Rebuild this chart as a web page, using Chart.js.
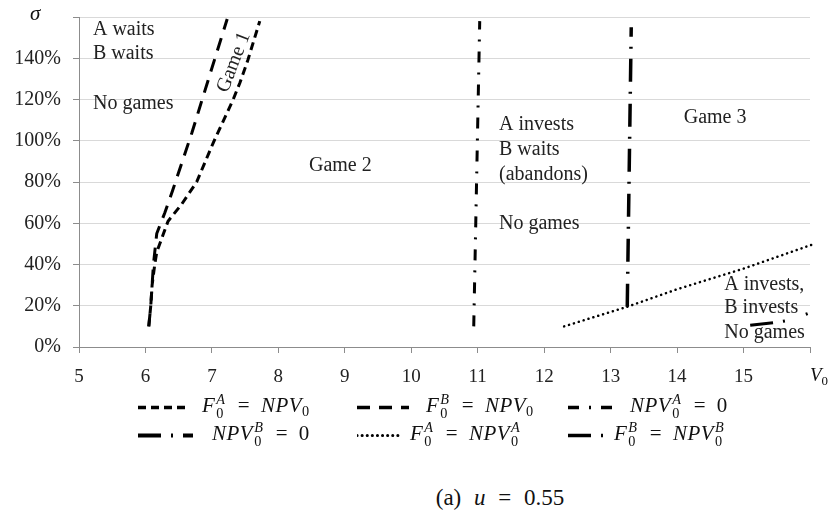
<!DOCTYPE html>
<html>
<head>
<meta charset="utf-8">
<script src="https://cdn.jsdelivr.net/npm/chart.js@4.4.1/dist/chart.umd.min.js"></script>
<style>
  body { margin: 0; background: #fff; }
  #wrap { position: relative; width: 831px; height: 515px; font-family: "Liberation Serif", serif; color: #111; }
  #box { position: absolute; left: 0; top: 0; width: 831px; height: 395px; }
  .lg { position: absolute; display: flex; align-items: center; font-size: 21px; line-height: 1; white-space: nowrap; transform: translateY(-50%); word-spacing: 6px; }
  .lg i { letter-spacing: 0.5px; }
  .lg svg { display: block; }
  .ss { display: inline-flex; flex-direction: column; vertical-align: 0.5em; font-size: 0.68em; line-height: 0.95; margin: 0 1px; }
  .ss > * { display: block; }
  sub { font-size: 0.68em; vertical-align: -0.3em; line-height: 0; }
  #sigma { position: absolute; left: 30px; top: 1px; font-size: 21px; font-style: italic; }
  #v0 { position: absolute; left: 810px; top: 364px; font-size: 19px; }
  #caption { position: absolute; left: 0; width: 1000px; top: 485px; text-align: center; font-size: 23px; word-spacing: 7px; }
</style>
</head>
<body>
<div id="wrap">
  <div id="box"><canvas id="chart"></canvas></div>
  <div id="sigma">σ</div>
  <div id="v0"><i>V</i><sub>0</sub></div>
  <div id="legend"></div>
  <div id="caption">(a) <i>u</i> = 0.55</div>
</div>
<script>
// sigma (%) and V0 for each boundary curve
const sigmaFA = [10, 20, 30, 40, 46, 61, 69, 80, 99, 120, 128, 139, 158];
const v0FA = [6.05, 6.08, 6.10, 6.14, 6.17, 6.34, 6.54, 6.77, 7.02, 7.32, 7.42, 7.54, 7.72];

const sigmaFB = [10, 20, 30, 40, 46, 55, 65, 76, 104, 129, 159];
const v0FB = [6.05, 6.08, 6.10, 6.12, 6.14, 6.17, 6.29, 6.41, 6.70, 6.94, 7.23];

const sigmaNpvA = [10, 158];
const v0NpvA = [10.94, 11.03];

const sigmaNpvB = [19.5, 155];
const v0NpvB = [13.25, 13.31];

const sigmaFNpvA = [10, 19.5, 28, 38, 49.5];
const v0FNpvA = [12.3, 13.25, 14, 15, 16.02];

const sigmaFNpvB = [10.5, 12, 13, 17];
const v0FNpvB = [15.1, 15.5, 15.7, 16.03];

const xTicks = [5, 6, 7, 8, 9, 10, 11, 12, 13, 14, 15, 16];
const yTicks = [0, 20, 40, 60, 80, 100, 120, 140, 160];

const seriesNames = [
  '<i>F</i><span class="ss"><i>A</i><span>0</span></span> = <i>NPV</i><sub>0</sub>',
  '<i>F</i><span class="ss"><i>B</i><span>0</span></span> = <i>NPV</i><sub>0</sub>',
  '<i>NPV</i><span class="ss"><i>A</i><span>0</span></span> = 0',
  '<i>NPV</i><span class="ss"><i>B</i><span>0</span></span> = 0',
  '<i>F</i><span class="ss"><i>A</i><span>0</span></span> = <i>NPV</i><span class="ss"><i>A</i><span>0</span></span>',
  '<i>F</i><span class="ss"><i>B</i><span>0</span></span> = <i>NPV</i><span class="ss"><i>B</i><span>0</span></span>',
];
const seriesX = [v0FA, v0FB, v0NpvA, v0NpvB, v0FNpvA, v0FNpvB];
const seriesY = [sigmaFA, sigmaFB, sigmaNpvA, sigmaNpvB, sigmaFNpvA, sigmaFNpvB];

// region labels, placed in data coordinates
const notes = [
  { text: "A waits", x: 5.21, y: 154 },
  { text: "B waits", x: 5.21, y: 142.4 },
  { text: "No games", x: 5.21, y: 118 },
  { text: "Game 2", x: 8.46, y: 88 },
  { text: "A invests", x: 11.32, y: 108 },
  { text: "B waits", x: 11.32, y: 95.4 },
  { text: "(abandons)", x: 11.32, y: 83.3 },
  { text: "No games", x: 11.32, y: 60 },
  { text: "Game 3", x: 14.1, y: 111 },
  { text: "A invests,", x: 14.71, y: 30 },
  { text: "B invests", x: 14.71, y: 18.9 },
  { text: "No games", x: 14.71, y: 6.8 },
  { text: "Game 1", x: 7.33, y: 138, rot: -69 },
];

// line looks, same order as the series
const lineStyles = [
  { width: 3, dash: [8, 5], cap: "butt", sample: 50, gap: 14 },
  { width: 3, dash: [13, 9], cap: "butt", sample: 52, gap: 17 },
  { width: 3, dash: [11, 10, 2, 10], cap: "butt", sample: 48, gap: 14 },
  { width: 3.5, dash: [23, 10, 2, 10], cap: "butt", sample: 55, gap: 19 },
  { width: 2.5, dash: [0.1, 5], cap: "round", sample: 45, gap: 8 },
  { width: 3, dash: [23, 10, 2, 22, 2, 20], cap: "butt", sample: 41, gap: 5 },
];
const legendCols = [138, 357, 568];
const legendRows = [407, 435];

const FONT = "'Liberation Serif', serif";

const notesPlugin = {
  id: "notes",
  afterDatasetsDraw(chart) {
    const { ctx, scales } = chart;
    ctx.save();
    ctx.fillStyle = "#222";
    ctx.font = "20px " + FONT;
    notes.forEach((n) => {
      const px = scales.x.getPixelForValue(n.x);
      const py = scales.y.getPixelForValue(n.y);
      if (n.rot) {
        ctx.save();
        ctx.translate(px, py);
        ctx.rotate((n.rot * Math.PI) / 180);
        ctx.textAlign = "center";
        ctx.textBaseline = "middle";
        ctx.fillText(n.text, 0, 0);
        ctx.restore();
      } else {
        ctx.textAlign = "left";
        ctx.textBaseline = "middle";
        ctx.fillText(n.text, px, py);
      }
    });
    ctx.restore();
  },
};

const datasets = seriesNames.map((name, i) => ({
  label: name,
  data: seriesX[i].map((v, j) => ({ x: v, y: seriesY[i][j] })),
  showLine: true,
  pointRadius: 0,
  borderColor: "#000",
  borderWidth: lineStyles[i].width,
  borderDash: lineStyles[i].dash,
  borderCapStyle: lineStyles[i].cap,
  tension: 0,
  clip: false,
}));

// drop the label padding chart.js adds so layout.padding decides the plot box
function noPad(s) {
  s.paddingTop = 0;
  s.paddingBottom = 0;
  s.paddingLeft = 0;
  s.paddingRight = 0;
}

new Chart(document.getElementById("chart"), {
  type: "scatter",
  data: { datasets },
  options: {
    animation: false,
    responsive: true,
    maintainAspectRatio: false,
    layout: { padding: { top: 17, right: 21, left: 0, bottom: 0 } },
    plugins: { legend: { display: false }, tooltip: { enabled: false } },
    scales: {
      x: {
        type: "linear",
        min: xTicks[0],
        max: xTicks[xTicks.length - 1],
        afterBuildTicks: (s) => { s.ticks = xTicks.map((v) => ({ value: v })); },
        afterFit: (s) => { s.height = 48; noPad(s); },
        ticks: {
          color: "#222",
          font: { family: FONT, size: 19 },
          padding: 13,
          maxRotation: 0,
          callback: (v) => (v === 16 ? "" : v),
        },
        grid: { drawOnChartArea: false, drawTicks: true, tickLength: 6, color: "#8c8c8c" },
        border: { color: "#8c8c8c" },
      },
      y: {
        min: yTicks[0],
        max: yTicks[yTicks.length - 1],
        afterBuildTicks: (s) => { s.ticks = yTicks.map((v) => ({ value: v })); },
        afterFit: (s) => { s.width = 79; noPad(s); },
        ticks: {
          color: "#222",
          font: { family: FONT, size: 20 },
          padding: 12,
          callback: (v) => (v === 160 ? "" : v + "%"),
        },
        grid: { color: "#d9d9d9", tickLength: 6, tickColor: "#8c8c8c" },
        border: { color: "#8c8c8c" },
      },
    },
  },
  plugins: [notesPlugin],
});

// legend: two rows of three
const legend = document.getElementById("legend");
seriesNames.forEach((name, i) => {
  const st = lineStyles[i];
  const item = document.createElement("div");
  item.className = "lg";
  item.style.left = legendCols[i % 3] + "px";
  item.style.top = legendRows[Math.floor(i / 3)] + "px";
  item.innerHTML =
    `<svg width="${st.sample}" height="10"><line x1="0" y1="5" x2="${st.sample}" y2="5" stroke="#000" ` +
    `stroke-width="${st.width + 0.5}" stroke-linecap="${st.cap}" stroke-dasharray="${st.dash.join(" ")}"/></svg>` +
    `<span style="margin-left:${st.gap}px">${name}</span>`;
  legend.appendChild(item);
});
</script>
</body>
</html>
